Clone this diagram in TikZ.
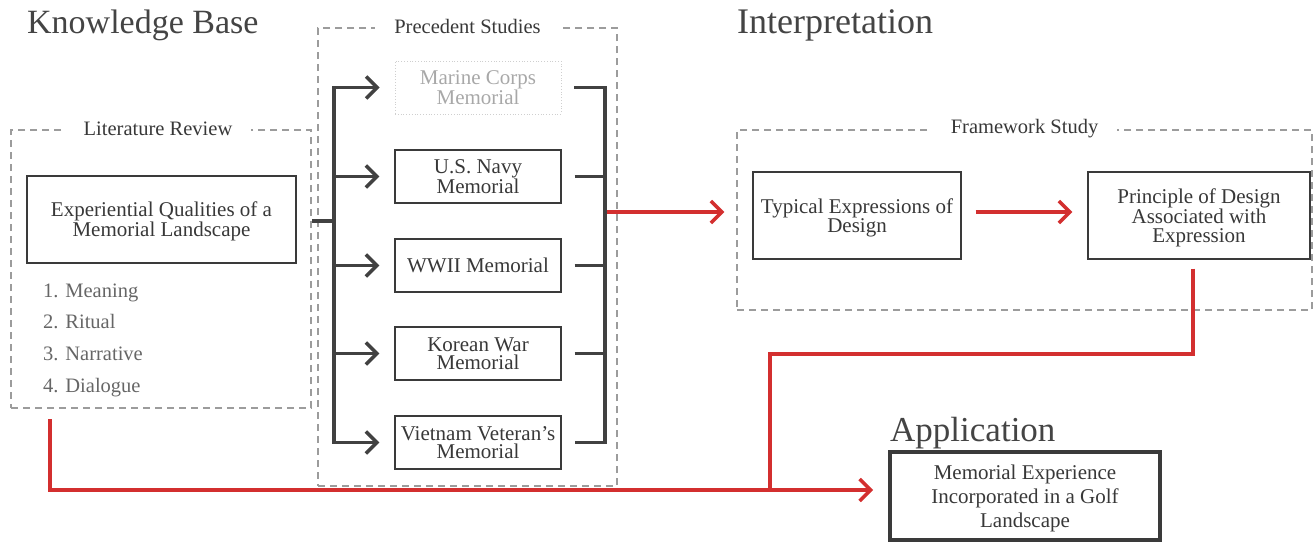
\documentclass[tikz,border=0pt]{standalone}
\usepackage{fontspec}
\setmainfont{Liberation Serif}
\usetikzlibrary{arrows.meta}
\definecolor{boxc}{HTML}{3A3A3A}
\definecolor{txt}{HTML}{383838}
\definecolor{titc}{HTML}{444444}
\definecolor{dashc}{HTML}{9C9C9C}
\definecolor{listc}{HTML}{666666}
\definecolor{darkc}{HTML}{414141}
\definecolor{redc}{HTML}{D32F2F}
\definecolor{fadec}{HTML}{A8A8A8}
\definecolor{fadeb}{HTML}{CFCFCF}
\tikzset{
  boxstyle/.style={draw=boxc, line width=1.4pt, minimum width=166pt, minimum height=53pt,
    align=center, text=txt, font=\fontsize{21}{18.5}\selectfont, inner sep=0pt, text depth=-7pt},
  descbox/.style={text depth=-2.5pt},
  dashbox/.style={draw=dashc, line width=2.5pt, dash pattern=on 7pt off 5pt, inner sep=0pt},
  dlabel/.style={fill=white, inner xsep=19pt, inner ysep=3pt, text=txt,
    font=\fontsize{20.5}{20.5}\selectfont},
  titlestyle/.style={anchor=base west, text=titc, font=\fontsize{34}{34}\selectfont, inner sep=0pt},
  listitem/.style={anchor=base west, text=listc, font=\fontsize{20.5}{20.5}\selectfont, inner sep=0pt},
  chev/.tip={Straight Barb[length=11pt, width=22pt]},
  darkline/.style={draw=darkc, line width=3.5pt},
  darkarrow/.style={darkline, -{chev}},
  redline/.style={draw=redc, line width=3.5pt},
  redarrow/.style={redline, -{chev}},
}
\begin{document}
\begin{tikzpicture}[x=1pt,y=-1pt]
\useasboundingbox (0,0) rectangle (1314,542);

% titles
\node[titlestyle] (tkb) at (27,33) {Knowledge Base};
\node[titlestyle, font=\fontsize{36}{36}\selectfont] (tint) at (737,33) {Interpretation};
\node[titlestyle, font=\fontsize{35}{35}\selectfont] (tapp) at (890,441) {Application};

% dashed group boxes
\node[dashbox, minimum width=300pt, minimum height=278pt] (lit) at (161,269) {};
\node[dashbox, minimum width=299pt, minimum height=458pt] (prec) at (467.5,257) {};
\node[dashbox, minimum width=575pt, minimum height=180pt] (frame) at (1024.5,220) {};
\node[dlabel] (litl) at ([xshift=-3pt]lit.north) {Literature Review};
\node[dlabel] (precl) at (prec.north) {Precedent Studies};
\node[dlabel] (framel) at (frame.north) {Framework Study};

% literature review content
\node[boxstyle, descbox, minimum width=269pt, minimum height=87pt] (exq) at (161.5,219.5)
  {Experiential Qualities of a\\Memorial Landscape};
\node[listitem] (l1) at (43,297) {1. Meaning};
\node[listitem] (l2) at (43,328) {2. Ritual};
\node[listitem] (l3) at (43,360) {3. Narrative};
\node[listitem] (l4) at (43,392) {4. Dialogue};

% precedent boxes
\node[boxstyle, draw=fadeb, line width=0.8pt, dotted, text=fadec] (mc) at (478,87.5) {Marine Corps\\Memorial};
\node[boxstyle] (navy) at (478,176.5) {U.S. Navy\\Memorial};
\node[boxstyle] (wwii) at (478,265.5) {WWII Memorial};
\node[boxstyle] (kor) at (478,353.5) {Korean War\\Memorial};
\node[boxstyle] (viet) at (478,442.5) {Vietnam Veteran’s\\Memorial};

% framework boxes
\node[boxstyle, descbox, minimum width=208pt, minimum height=87pt] (typ) at (857,215.5) {Typical Expressions of\\Design};
\node[boxstyle, minimum width=222pt, minimum height=87pt] (prin) at (1199,215.5) {Principle of Design\\Associated with\\Expression};

% application
\node[boxstyle, descbox, line width=4pt, minimum width=270pt, minimum height=88pt,
  font=\fontsize{21}{24}\selectfont] (app) at (1025,496)
  {Memorial Experience\\Incorporated in a Golf\\Landscape};

% coordinates
\coordinate (lb) at (334,221);
\coordinate (rb) at (605,212);
\coordinate (j) at (770,490);
\coordinate (bend) at (770,354);

% left bracket
\draw[darkline] (lit.east |- lb) -- (lb);
\draw[darkline, {chev}-{chev}, shorten <=15pt, shorten >=15pt] (mc.west) -| (lb) |- (viet.west);
\draw[darkarrow, shorten >=15pt] (lb |- navy.west) -- (navy.west);
\draw[darkarrow, shorten >=15pt] (lb |- wwii.west) -- (wwii.west);
\draw[darkarrow, shorten >=15pt] (lb |- kor.west) -- (kor.west);

% right bracket
\draw[darkline, shorten <=13pt, shorten >=13pt] (mc.east) -| (rb) |- (viet.east);
\draw[darkline, shorten <=13pt] (navy.east) -- (rb |- navy.east);
\draw[darkline, shorten <=13pt] (wwii.east) -- (rb |- wwii.east);
\draw[darkline, shorten <=13pt] (kor.east) -- (rb |- kor.east);

% red connectors
\draw[redarrow, shorten <=2pt, shorten >=28pt] (rb) -- (rb -| typ.west);
\draw[redarrow, shorten <=14pt, shorten >=15pt] (typ.east |- rb) -- (prin.west |- rb);
\draw[redline, shorten <=9pt] ([xshift=-6pt]prin.south) |- (bend) -- (j);
\draw[redarrow, shorten >=15pt] ([xshift=40pt,yshift=-10pt]lit.south west) |- (j) -- (j -| app.west);
\end{tikzpicture}
\end{document}
